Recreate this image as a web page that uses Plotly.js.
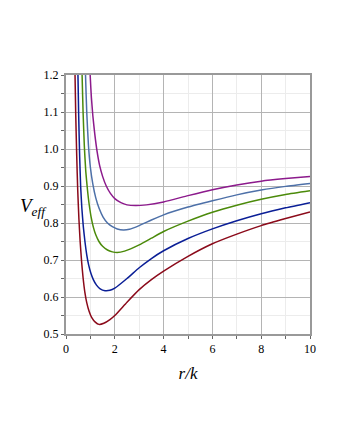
<!DOCTYPE html>
<html>
<head>
<meta charset="utf-8">
<script src="https://cdn.plot.ly/plotly-3.0.1.min.js"></script>
<style>
  html, body { margin: 0; padding: 0; background: #fff; }
  #plot { width: 340px; height: 440px; }
</style>
</head>
<body>
<div id="plot"></div>
<script>
// values, one pair of arrays per curve
var rRed = [0.34, 0.37, 0.40, 0.44, 0.48, 0.53, 0.58, 0.64, 0.70, 0.77, 0.85, 0.95, 1.05, 1.2, 1.35, 1.55, 1.8, 2.0, 2.5, 3.0, 3.5, 4.0, 5.0, 6.0, 7.0, 8.0, 9.0, 10];
var vRed = [1.30, 1.20, 1.09, 0.98, 0.89, 0.81, 0.75, 0.695, 0.652, 0.614, 0.585, 0.561, 0.545, 0.532, 0.526, 0.529, 0.539, 0.550, 0.586, 0.620, 0.647, 0.670, 0.710, 0.744, 0.770, 0.793, 0.812, 0.830];

var rBlue = [0.46, 0.49, 0.52, 0.56, 0.60, 0.65, 0.71, 0.78, 0.85, 0.93, 1.02, 1.12, 1.25, 1.4, 1.6, 1.8, 2.0, 2.5, 3.0, 3.5, 4.0, 5.0, 6.0, 7.0, 8.0, 9.0, 10];
var vBlue = [1.30, 1.20, 1.09, 0.98, 0.90, 0.84, 0.79, 0.748, 0.714, 0.686, 0.664, 0.647, 0.632, 0.622, 0.617, 0.618, 0.624, 0.650, 0.679, 0.704, 0.725, 0.758, 0.784, 0.806, 0.825, 0.841, 0.855];

var rGreen = [0.63, 0.66, 0.70, 0.75, 0.81, 0.88, 0.95, 1.03, 1.12, 1.22, 1.35, 1.5, 1.7, 1.9, 2.1, 2.4, 3.0, 3.5, 4.0, 5.0, 6.0, 7.0, 8.0, 9.0, 10];
var vGreen = [1.30, 1.20, 1.10, 1.01, 0.94, 0.89, 0.85, 0.816, 0.789, 0.768, 0.750, 0.737, 0.727, 0.722, 0.720, 0.724, 0.741, 0.759, 0.777, 0.805, 0.829, 0.848, 0.864, 0.877, 0.887];

var rSteel = [0.77, 0.80, 0.85, 0.92, 1.0, 1.1, 1.22, 1.36, 1.52, 1.7, 1.9, 2.1, 2.35, 2.6, 3.0, 3.5, 4.0, 5.0, 6.0, 7.0, 8.0, 9.0, 10];
var vSteel = [1.30, 1.20, 1.10, 1.01, 0.95, 0.905, 0.868, 0.839, 0.816, 0.800, 0.790, 0.784, 0.781, 0.783, 0.793, 0.808, 0.822, 0.843, 0.860, 0.876, 0.889, 0.899, 0.907];

var rPurple = [0.96, 0.99, 1.04, 1.10, 1.18, 1.27, 1.38, 1.5, 1.65, 1.82, 2.0, 2.25, 2.5, 2.85, 3.3, 4.0, 5.0, 6.0, 7.0, 8.0, 9.0, 10];
var vPurple = [1.28, 1.20, 1.14, 1.09, 1.04, 0.995, 0.955, 0.926, 0.900, 0.880, 0.866, 0.855, 0.849, 0.847, 0.849, 0.857, 0.874, 0.890, 0.903, 0.913, 0.920, 0.926];

var yTicks = [0.5, 0.6, 0.7, 0.8, 0.9, 1.0, 1.1, 1.2];
var yTickText = ["0.5", "0.6", "0.7", "0.8", "0.9", "1.0", "1.1", "1.2"];
var xTicks = [0, 2, 4, 6, 8, 10];

function curve(x, y, color) {
  return {
    x: x,
    y: y,
    type: "scatter",
    mode: "lines",
    line: { color: color, width: 1.5, shape: "spline", smoothing: 0.5 },
    hoverinfo: "none"
  };
}

var data = [
  curve(rRed, vRed, "#8B0A1A"),
  curve(rBlue, vBlue, "#0A1E96"),
  curve(rGreen, vGreen, "#4B8A0A"),
  curve(rSteel, vSteel, "#4D70A8"),
  curve(rPurple, vPurple, "#8C1A8C")
];

var serif = "Liberation Serif, serif";
var axisFont = { family: serif, size: 12, color: "#000" };

var layout = {
  width: 340,
  height: 440,
  margin: { l: 66, r: 30, t: 75, b: 106 },
  font: { family: serif, size: 12, color: "#000" },
  paper_bgcolor: "#fff",
  plot_bgcolor: "#fff",
  showlegend: false,
  xaxis: {
    range: [0, 10],
    tickvals: xTicks,
    ticks: "outside",
    ticklen: 3,
    tickcolor: "#666",
    tickfont: axisFont,
    showgrid: true,
    gridcolor: "#b4b4b4",
    gridwidth: 1,
    minor: { dtick: 1, showgrid: true, gridcolor: "#ececec", ticks: "outside", ticklen: 3, tickcolor: "#666" },
    showline: true,
    linecolor: "#999",
    linewidth: 2,
    mirror: true,
    zeroline: false,
    title: { text: "<i>r/k</i>", font: { family: serif, size: 17, color: "#000" }, standoff: 12 }
  },
  yaxis: {
    range: [0.5, 1.2],
    tickvals: yTicks,
    ticktext: yTickText,
    ticks: "outside",
    ticklen: 3,
    tickcolor: "#666",
    tickfont: axisFont,
    showgrid: true,
    gridcolor: "#b4b4b4",
    gridwidth: 1,
    minor: { dtick: 0.05, showgrid: true, gridcolor: "#ececec", ticks: "outside", ticklen: 3, tickcolor: "#666" },
    showline: true,
    linecolor: "#999",
    linewidth: 2,
    mirror: true,
    zeroline: false
  },
  annotations: [{
    text: "<i>V</i><sub><i>eff</i></sub>",
    xref: "paper",
    yref: "paper",
    x: -0.135,
    y: 0.49,
    xanchor: "center",
    yanchor: "middle",
    showarrow: false,
    font: { family: serif, size: 19, color: "#000" }
  }]
};

Plotly.newPlot("plot", data, layout, { displayModeBar: false, staticPlot: true });
</script>
</body>
</html>
